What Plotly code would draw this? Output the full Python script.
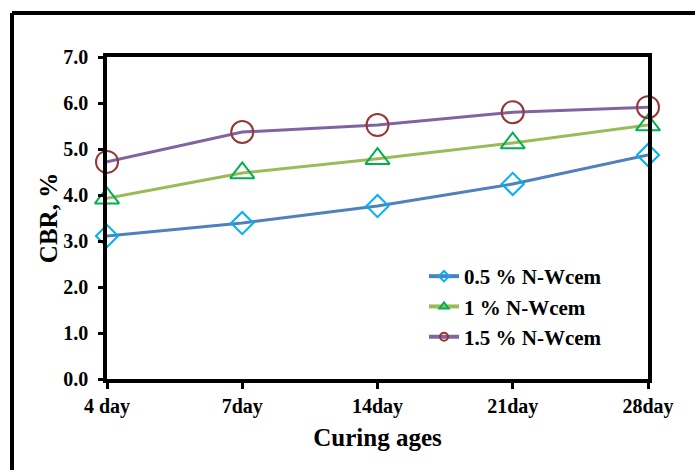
import plotly.graph_objects as go

# Curing ages (category axis) and CBR values (%) for each N-Wcem dosage
ages = ["4 day", "7day", "14day", "21day", "28day"]
cbr_05 = [3.11, 3.39, 3.76, 4.24, 4.87]
cbr_10 = [3.93, 4.48, 4.79, 5.13, 5.52]
cbr_15 = [4.72, 5.37, 5.52, 5.80, 5.91]
series_names = ["0.5 % N-Wcem", "1 % N-Wcem", "1.5 % N-Wcem"]
y_ticks = [0, 1, 2, 3, 4, 5, 6, 7]

FONT = "Liberation Serif"
W, H = 695, 470
L, R, T, B = 107, 47, 57, 91
PW, PH = W - L - R, H - T - B

styles = [
    dict(line="#4F81BD", marker="#00B0F0", symbol="diamond-open", size=17),
    dict(line="#9BBB59", marker="#00B050", symbol="triangle-up-open", size=21),
    dict(line="#8064A2", marker="#953735", symbol="circle-open", size=22),
]

fig = go.Figure()
for name, vals, st in zip(series_names, [cbr_05, cbr_10, cbr_15], styles):
    # data trace (large hollow markers)
    fig.add_trace(go.Scatter(
        x=ages, y=vals, mode="lines+markers", name=name, showlegend=False,
        line=dict(color=st["line"], width=3),
        marker=dict(symbol=st["symbol"], size=st["size"], color=st["marker"],
                    line=dict(color=st["marker"], width=2)),
        cliponaxis=False,
    ))
    # legend entry with smaller markers
    fig.add_trace(go.Scatter(
        x=[None], y=[None], mode="lines+markers", name=name,
        line=dict(color=st["line"], width=4),
        marker=dict(symbol=st["symbol"], size=8, color=st["marker"],
                    line=dict(color=st["marker"], width=2)),
    ))

# outer frame (left and top edges)
fx = (12 - L) / PW
fy = (H - B - 13) / PH
fig.add_shape(type="line", xref="paper", yref="paper", x0=fx, x1=fx, y0=-1, y1=fy,
              line=dict(color="black", width=4))
fig.add_shape(type="line", xref="paper", yref="paper", x0=fx, x1=2, y0=fy, y1=fy,
              line=dict(color="black", width=4))

axis_font = dict(family=FONT, size=20, color="black", weight="bold")
title_font = dict(family=FONT, size=25, color="black", weight="bold")

fig.update_layout(
    width=W, height=H,
    margin=dict(l=L, r=R, t=T, b=B),
    paper_bgcolor="white", plot_bgcolor="white",
    xaxis=dict(
        type="category", range=[0, len(ages) - 1],
        showgrid=False, zeroline=False,
        showline=True, linecolor="black", linewidth=3.5, mirror=True,
        ticks="outside", ticklen=6, tickwidth=3, tickcolor="black",
        tickfont=axis_font,
        title=dict(text="Curing ages", font=title_font, standoff=13),
        automargin=False,
    ),
    yaxis=dict(
        range=[0, 7], tickvals=y_ticks, tickformat=".1f",
        showgrid=False, zeroline=False,
        showline=True, linecolor="black", linewidth=3.5, mirror=True,
        ticks="outside", ticklen=5, tickwidth=3, tickcolor="black",
        tickfont=axis_font, ticklabelstandoff=6,
        title=dict(text="CBR, %", font=title_font, standoff=0),
        automargin=False,
    ),
    legend=dict(
        x=(424 - L) / PW, y=(H - B - 256) / PH, xanchor="left", yanchor="top",
        font=dict(family=FONT, size=21, color="black", weight="bold"),
        bgcolor="rgba(0,0,0,0)", itemwidth=30, tracegroupgap=0,
    ),
)

fig.write_html("out.html")
